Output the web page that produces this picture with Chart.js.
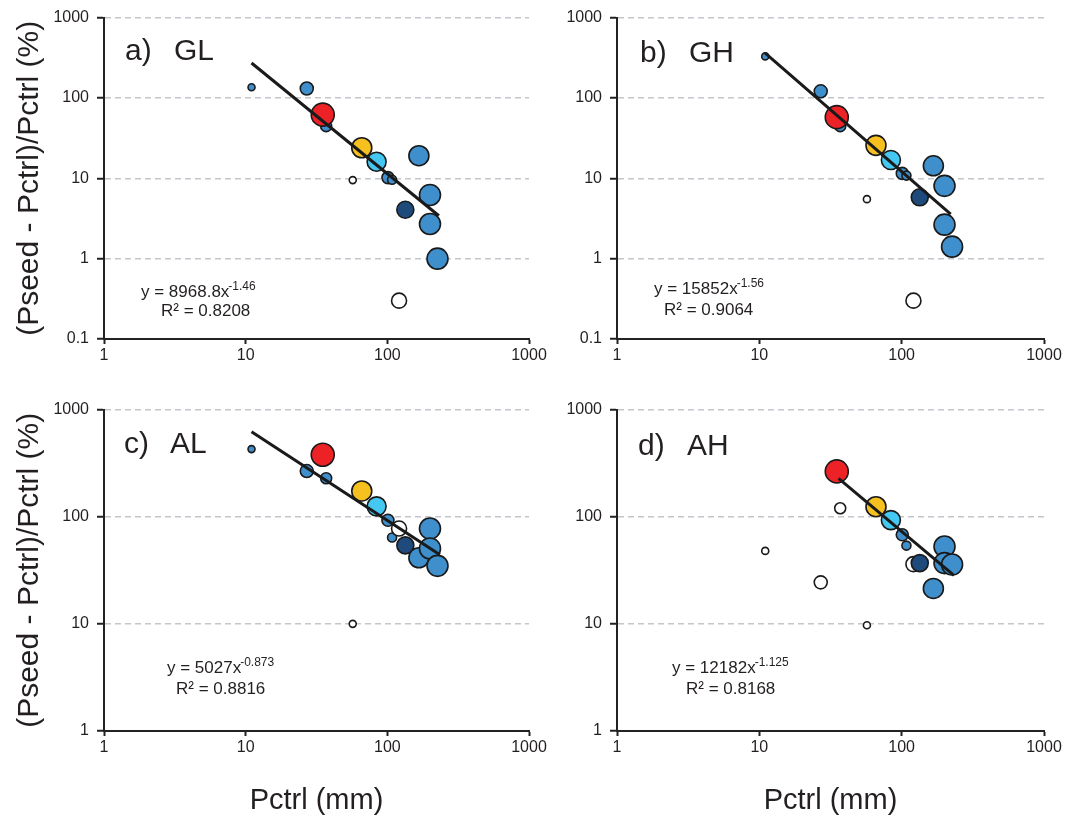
<!DOCTYPE html>
<html>
<head>
<meta charset="utf-8">
<title>Pseed vs Pctrl</title>
<script src="https://cdn.jsdelivr.net/npm/chart.js@4.4.0/dist/chart.umd.min.js"></script>
<style>
    html, body { margin: 0; padding: 0; background: #fff; }
    #wrap { position: relative; width: 1069px; height: 818px; overflow: hidden; }
    canvas { position: absolute; }
</style>
</head>
<body>
<div id="wrap">
    <canvas id="chartA" width="560" height="400" style="left:0;top:0"></canvas>
    <canvas id="chartB" width="535" height="400" style="left:534px;top:0"></canvas>
    <canvas id="chartC" width="560" height="426" style="left:0;top:392px"></canvas>
    <canvas id="chartD" width="535" height="426" style="left:534px;top:392px"></canvas>
</div>
<script>
// ===== Data =====
// Pctrl (mm) for each site, same in all four panels (draw order)
const pctrl = [11, 27, 37, 35, 66, 84, 57, 101, 108, 121, 134, 167, 200, 200, 226];
// bubble radius (px) for each site
const bubbleR = [3.5, 6.5, 5.5, 11.5, 10, 9.5, 3.5, 6, 4.5, 7.5, 8.5, 10, 10.5, 10.5, 10.5];

// (Pseed - Pctrl)/Pctrl (%) per panel
const yGL = [136, 131, 44.6, 62, 24, 16.1, 9.5, 10.2, 9.6, 0.30, 4.06, 19.1, 6.2, 2.7, 1.0];
const yGH = [329, 121, 44.6, 57.7, 25.7, 16.9, 5.5, 11.5, 10.8, 0.30, 5.8, 14.3, 8.05, 2.65, 1.41];
const yAL = [428, 267, 229, 379, 174, 125, 10, 92.7, 64, 77.6, 54, 41.4, 77.6, 50.6, 34.8];
const yAH = [48, 24.4, 120, 265, 124, 93, 9.7, 67.8, 53.8, 36.1, 36.9, 21.4, 52.7, 36.9, 35.8];

// fill group per point
const groupGL = ['blue', 'blue', 'blue', 'red', 'yellow', 'cyan', 'open', 'blue', 'blue', 'open', 'navy', 'blue', 'blue', 'blue', 'blue'];
const groupGH = groupGL;
const groupAL = groupGL;
const groupAH = ['open', 'open', 'open', 'red', 'yellow', 'cyan', 'open', 'blue', 'blue', 'open', 'navy', 'blue', 'blue', 'blue', 'blue'];

// fitted power-law lines, end points
const fitGLx = [11, 231], fitGLy = [272, 3.42];
const fitGHx = [11, 221], fitGHy = [361, 3.59];
const fitALx = [11, 235], fitALy = [620, 44.2];
const fitAHx = [36, 233], fitAHy = [228, 28.3];

// axis ticks
const xTicks = [1, 10, 100, 1000];
const yTicksTop = [0.1, 1, 10, 100, 1000];
const yTicksBottom = [1, 10, 100, 1000];

// ===== Styles =====
const COLORS = {
    red: '#ec2227',
    yellow: '#f6c11f',
    cyan: '#44c7f0',
    blue: '#3e8fcc',
    navy: '#1f4a7c',
    open: '#ffffff'
};
const FONT = "'Liberation Sans', Arial, Helvetica, sans-serif";
const INK = '#231f20';

// Panel label + equation text
function panelTextPlugin(p) {
    return {
        id: 'panelText',
        afterDatasetsDraw(chart) {
            const { ctx, chartArea } = chart;
            const L = chartArea.left, T = chartArea.top;
            ctx.save();
            ctx.fillStyle = INK;
            ctx.textBaseline = 'alphabetic';
            ctx.textAlign = 'left';

            ctx.font = '30px ' + FONT;
            ctx.fillText(p.tag, L + p.tagX, T + p.tagY);
            ctx.fillText(p.name, L + p.nameX, T + p.tagY);

            ctx.font = '17px ' + FONT;
            ctx.fillText(p.eq, L + p.eqX, T + p.eqY);
            const w = ctx.measureText(p.eq).width;
            ctx.fillText(p.r2, L + p.r2X, T + p.r2Y);

            ctx.font = '12px ' + FONT;
            ctx.fillText(p.exp, L + p.eqX + w - 1, T + p.eqY - 7);
            ctx.restore();
        }
    };
}

function makeChart(canvasId, p) {
    const points = pctrl.map((x, i) => ({ x: x, y: p.y[i], r: bubbleR[i] }));
    const line = p.fitX.map((x, i) => ({ x: x, y: p.fitY[i] }));

    return new Chart(document.getElementById(canvasId), {
        type: 'bubble',
        data: {
            datasets: [
                {
                    type: 'line',
                    data: line,
                    borderColor: '#1a1a1a',
                    borderWidth: 3,
                    pointRadius: 0,
                    fill: false,
                    order: 0
                },
                {
                    data: points,
                    backgroundColor: p.groups.map(g => COLORS[g]),
                    borderColor: '#1a1a1a',
                    borderWidth: 1.6,
                    order: 1
                }
            ]
        },
        options: {
            responsive: false,
            animation: false,
            events: [],
            layout: { padding: { top: p.padTop, right: p.padRight, left: 0, bottom: 0 } },
            plugins: {
                legend: { display: false },
                tooltip: { enabled: false }
            },
            scales: {
                x: {
                    type: 'logarithmic',
                    min: 1,
                    max: 1000,
                    afterBuildTicks: (scale) => { scale.ticks = xTicks.map(v => ({ value: v })); },
                    afterFit: (scale) => { scale.height = p.xHeight; },
                    ticks: {
                        autoSkip: false,
                        maxRotation: 0,
                        padding: 2,
                        color: INK,
                        font: { family: FONT, size: 16 },
                        callback: (v) => String(v)
                    },
                    grid: {
                        drawOnChartArea: false,
                        drawTicks: true,
                        tickLength: 5,
                        tickColor: '#222',
                        tickWidth: 2
                    },
                    border: { color: '#222', width: 2 },
                    title: {
                        display: p.xTitle,
                        text: 'Pctrl (mm)',
                        color: INK,
                        font: { family: FONT, size: 29 },
                        padding: { top: 0, bottom: 0 }
                    }
                },
                y: {
                    type: 'logarithmic',
                    min: p.yTicks[0],
                    max: 1000,
                    afterBuildTicks: (scale) => { scale.ticks = p.yTicks.map(v => ({ value: v })); },
                    afterFit: (scale) => { scale.width = p.yWidth; },
                    ticks: {
                        autoSkip: false,
                        padding: 8,
                        color: INK,
                        font: { family: FONT, size: 16 },
                        callback: (v) => String(v)
                    },
                    grid: {
                        color: '#c3c6cb',
                        lineWidth: 1.5,
                        drawTicks: true,
                        tickLength: 7,
                        tickColor: '#222',
                        tickWidth: 2
                    },
                    border: { color: '#222', width: 2, dash: [6, 4] },
                    title: {
                        display: p.yTitle,
                        text: '(Pseed - Pctrl)/Pctrl (%)',
                        color: INK,
                        font: { family: FONT, size: 30 },
                        padding: { top: 12, bottom: 0 }
                    }
                }
            }
        },
        plugins: [panelTextPlugin(p)]
    });
}

makeChart('chartA', {
    y: yGL, groups: groupGL, fitX: fitGLx, fitY: fitGLy, yTicks: yTicksTop,
    padTop: 16, padRight: 31, xHeight: 61, yWidth: 104, xTitle: false, yTitle: true,
    tag: 'a)', name: 'GL', tagX: 21, nameX: 70, tagY: 42,
    eq: 'y = 8968.8x', exp: '-1.46', r2: 'R\u00B2 = 0.8208', eqX: 37, eqY: 279, r2X: 57, r2Y: 298
});

makeChart('chartB', {
    y: yGH, groups: groupGH, fitX: fitGHx, fitY: fitGHy, yTicks: yTicksTop,
    padTop: 16, padRight: 25, xHeight: 61, yWidth: 83, xTitle: false, yTitle: false,
    tag: 'b)', name: 'GH', tagX: 23, nameX: 72, tagY: 44,
    eq: 'y = 15852x', exp: '-1.56', r2: 'R\u00B2 = 0.9064', eqX: 37, eqY: 276, r2X: 47, r2Y: 297
});

makeChart('chartC', {
    y: yAL, groups: groupAL, fitX: fitALx, fitY: fitALy, yTicks: yTicksBottom,
    padTop: 17, padRight: 31, xHeight: 87, yWidth: 104, xTitle: true, yTitle: true,
    tag: 'c)', name: 'AL', tagX: 20, nameX: 66, tagY: 43,
    eq: 'y = 5027x', exp: '-0.873', r2: 'R\u00B2 = 0.8816', eqX: 63, eqY: 263, r2X: 72, r2Y: 284
});

makeChart('chartD', {
    y: yAH, groups: groupAH, fitX: fitAHx, fitY: fitAHy, yTicks: yTicksBottom,
    padTop: 17, padRight: 25, xHeight: 87, yWidth: 83, xTitle: true, yTitle: false,
    tag: 'd)', name: 'AH', tagX: 21, nameX: 70, tagY: 45,
    eq: 'y = 12182x', exp: '-1.125', r2: 'R\u00B2 = 0.8168', eqX: 55, eqY: 263, r2X: 69, r2Y: 284
});
</script>
</body>
</html>
